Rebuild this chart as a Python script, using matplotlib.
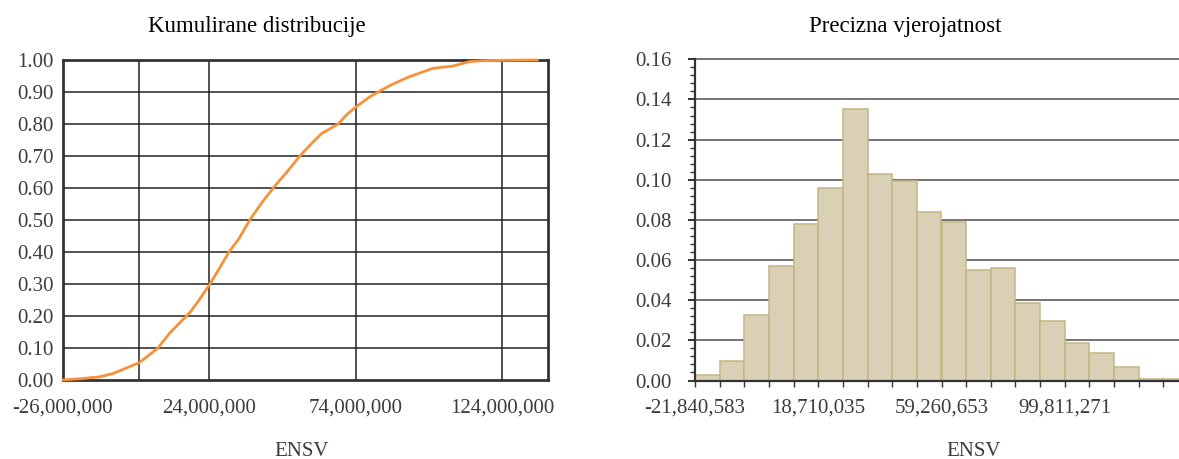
import matplotlib
matplotlib.use("Agg")
import matplotlib.pyplot as plt
from matplotlib.ticker import FuncFormatter, MultipleLocator, FixedLocator

plt.rcParams['font.family'] = ['Liberation Serif', 'DejaVu Serif']

# ---- data -----------------------------------------------------------------
# cumulative distribution of ENSV (values in currency units)
cdf_x = [-26.0, -20.0, -13.4, -9.0, -4.5, 0.0, 3.0, 6.4, 10.5, 14.0, 17.3,
         20.5, 24.0, 27.5, 30.7, 34.0, 37.8, 42.0, 46.7, 50.5, 54.9, 58.5,
         62.3, 68.0, 71.0, 74.2, 78.8, 85.6, 92.4, 100.4, 107.2, 112.9,
         118.0, 123.0, 136.0]
cdf_x = [v * 1e6 for v in cdf_x]
cdf_y = [0.0, 0.004, 0.01, 0.02, 0.037, 0.054, 0.075, 0.10, 0.147, 0.18,
         0.21, 0.25, 0.297, 0.35, 0.40, 0.44, 0.50, 0.555, 0.61, 0.65, 0.70,
         0.735, 0.77, 0.80, 0.83, 0.854, 0.885, 0.92, 0.948, 0.974, 0.981,
         0.995, 0.998, 0.999, 1.0]

cdf_xticks = [-26_000_000, 24_000_000, 74_000_000, 124_000_000]
cdf_vgrid = [0, 24_000_000, 74_000_000, 124_000_000]

# histogram of exact probabilities
hist_start = -21_840_583
hist_label_step = 40_550_618          # distance between labelled edges (5 bins)
hist_width = hist_label_step / 5
hist_probs = [0.0025, 0.0096, 0.0328, 0.0569, 0.0782, 0.0960, 0.1352, 0.1031,
              0.0993, 0.0840, 0.0790, 0.0552, 0.0560, 0.0388, 0.0296, 0.0188,
              0.0136, 0.0066, 0.0007, 0.0007]
hist_labels = ['-21,840,583', '18,710,035', '59,260,653', '99,811,271']

# ---- figure ---------------------------------------------------------------
W, H = 1179, 459
fig = plt.figure(figsize=(W / 100, H / 100), dpi=100)

def box(l, t, r, b):
    return [l / W, 1 - b / H, (r - l) / W, (b - t) / H]

tick_color = '#3c3c3c'
fs = 15

# ---- left: cumulative distribution ------------------------------------------
ax1 = fig.add_axes(box(63, 60, 548, 380))
ax1.set_xlim(-26e6, 139.7e6)
ax1.set_ylim(0, 1.0)
for v in [i / 10 for i in range(1, 10)]:
    ax1.axhline(v, color='#222222', lw=1.1, zorder=1)
for v in cdf_vgrid:
    ax1.axvline(v, color='#222222', lw=1.1, zorder=1)
ax1.plot(cdf_x, cdf_y, color='#f7923a', lw=2.0, zorder=4, clip_on=False,
         solid_joinstyle='round')
for s in ax1.spines.values():
    s.set_color('#333333')
    s.set_linewidth(2.0)
ax1.set_yticks([i / 10 for i in range(11)])
ax1.yaxis.set_major_formatter(FuncFormatter(lambda v, p: f'{v:.2f}'))
ax1.set_xticks(cdf_xticks)
ax1.xaxis.set_major_formatter(FuncFormatter(lambda v, p: f'{int(round(v)):,}'))
ax1.tick_params(axis='y', length=0, pad=6.5, labelsize=fs, labelcolor=tick_color)
ax1.tick_params(axis='x', length=0, pad=13, labelsize=fs, labelcolor=tick_color)

# ---- right: exact probability histogram -------------------------------------
n_visible = (W - 695) / 24.65
ax2 = fig.add_axes(box(695, 59.3, W, 380.5))
ax2.set_xlim(hist_start, hist_start + n_visible * hist_width)
ax2.set_ylim(0, 0.16)
for v in [i * 0.02 for i in range(1, 9)]:
    ax2.axhline(v, color='#505050', lw=1.1, zorder=1, clip_on=False)
edges = [hist_start + i * hist_width for i in range(len(hist_probs))]
ax2.bar(edges, hist_probs, width=hist_width, align='edge',
        color='#d9d0b5', edgecolor='#c4b683', linewidth=1.1, zorder=2)
for k in ['top', 'right']:
    ax2.spines[k].set_visible(False)
for k in ['left', 'bottom']:
    ax2.spines[k].set_color('#333333')
    ax2.spines[k].set_linewidth(1.6)
    ax2.spines[k].set_zorder(3)
ax2.yaxis.set_major_locator(MultipleLocator(0.02))
ax2.yaxis.set_minor_locator(MultipleLocator(0.004))
ax2.yaxis.set_major_formatter(FuncFormatter(lambda v, p: f'{v:.2f}'))
ax2.xaxis.set_major_locator(FixedLocator([hist_start + i * hist_label_step
                                          for i in range(len(hist_labels))]))
ax2.set_xticklabels(hist_labels)
ax2.xaxis.set_minor_locator(FixedLocator(edges + [hist_start + len(hist_probs) * hist_width]))
ax2.tick_params(axis='y', which='major', length=5, width=1.4, color='#333333',
                pad=12, labelsize=fs, labelcolor=tick_color)
ax2.tick_params(axis='y', which='minor', length=3.6, width=1.0, color='#333333')
ax2.tick_params(axis='x', which='both', length=4.3, width=1.0, color='#333333',
                pad=8.6, labelsize=fs, labelcolor=tick_color)

# ---- titles and axis names -------------------------------------------------
fig.text(257 / W, 1 - 31.7 / H, 'Kumulirane distribucije', fontsize=16.5,
         ha='center', va='baseline', color='black')
fig.text(905 / W, 1 - 31.7 / H, 'Precizna vjerojatnost', fontsize=16.5,
         ha='center', va='baseline', color='black')
fig.text(302 / W, 1 - 456 / H, 'ENSV', fontsize=fs, ha='center',
         va='baseline', color=tick_color)
fig.text(974 / W, 1 - 456 / H, 'ENSV', fontsize=fs, ha='center',
         va='baseline', color=tick_color)

fig.savefig('out.png', dpi=100)
